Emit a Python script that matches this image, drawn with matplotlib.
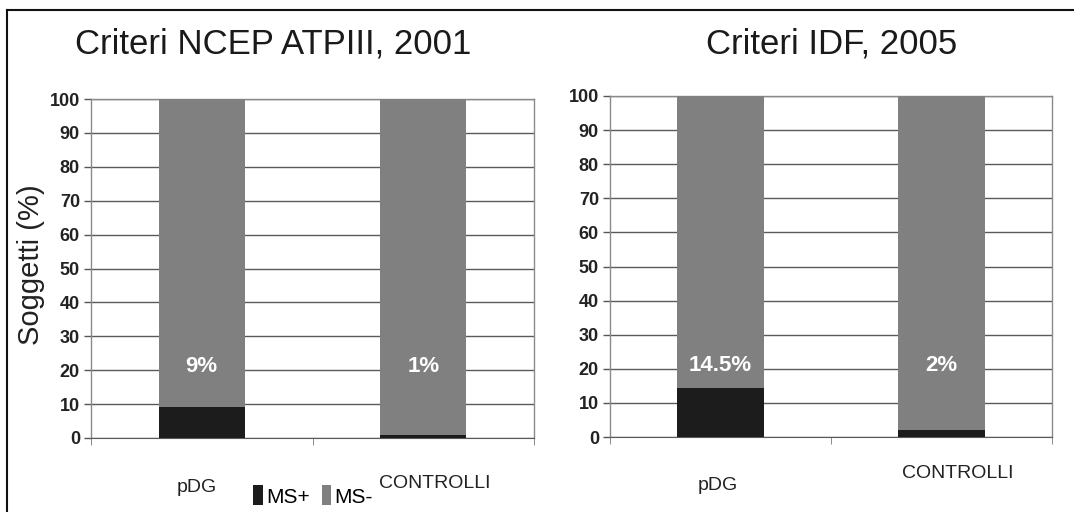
import matplotlib
matplotlib.use("Agg")
import matplotlib.pyplot as plt
import matplotlib.transforms as mtransforms
from matplotlib.patches import Patch
from matplotlib.lines import Line2D
from matplotlib import font_manager


categories = ["pDG", "CONTROLLI"]
panel_titles = ["Criteri NCEP ATPIII, 2001", "Criteri IDF, 2005"]
ms_pos_ncep = [9, 1]
ms_neg_ncep = [91, 99]
ms_pos_idf = [14.5, 2]
ms_neg_idf = [85.5, 98]
value_labels_ncep = ["9%", "1%"]
value_labels_idf = ["14.5%", "2%"]
yticks = list(range(0, 101, 10))

DARK = "#1c1c1c"
GRAY = "#808080"
W, H = 1074, 512

names = {f.name for f in font_manager.fontManager.ttflist}
SANS = "Liberation Sans" if "Liberation Sans" in names else "DejaVu Sans"
plt.rcParams["font.family"] = [SANS, "DejaVu Sans"]

fig = plt.figure(figsize=(W / 100, H / 100), dpi=100)
fig.patch.set_facecolor("white")


def px_axes(left, top, right, bottom):
    return fig.add_axes([left / W, 1 - bottom / H, (right - left) / W, (bottom - top) / H])


def draw_panel(ax, pos, neg, labels, label_offsets):
    x = range(len(categories))
    ax.bar(x, pos, width=0.39, color=DARK, zorder=3)
    ax.bar(x, neg, bottom=pos, width=0.39, color=GRAY, zorder=3)
    for xi, lab in zip(x, labels):
        ax.text(xi, 21, lab, color="white", fontsize=16, fontweight="bold",
                ha="center", va="center", zorder=4)
    ax.set_xlim(-0.5, 1.5)
    ax.set_ylim(0, 100)
    ax.set_yticks(yticks)
    ax.set_yticklabels([str(t) for t in yticks], fontweight="bold",
                       fontsize=13, color="#222222")
    ax.yaxis.grid(True, color="#5a5a5a", linewidth=1.0, zorder=0)
    ax.set_axisbelow(True)
    ax.tick_params(axis="y", direction="out", length=5, width=1, color="#555555", pad=3)
    # category separators on the bottom axis
    ax.set_xticks([-0.5, 0.5, 1.5], minor=True)
    ax.tick_params(axis="x", which="minor", direction="out", length=5, color="#777777")
    ax.set_xticks(list(x))
    ax.set_xticklabels(categories, fontsize=14, color="#222222")
    ax.tick_params(axis="x", which="major", length=0, pad=27)
    for lab, (dx, dy) in zip(ax.get_xticklabels(), label_offsets):
        off = mtransforms.ScaledTranslation(dx / 100, dy / 100, fig.dpi_scale_trans)
        lab.set_transform(lab.get_transform() + off)
    for side in ["left", "right", "top"]:
        ax.spines[side].set_color("#8a8a8a")
        ax.spines[side].set_linewidth(1.0)
    ax.spines["bottom"].set_color("#5a5a5a")


ax1 = px_axes(91, 99, 534, 438)
draw_panel(ax1, ms_pos_ncep, ms_neg_ncep, value_labels_ncep, [(-5, -3), (12, 1)])
ax2 = px_axes(610, 96, 1052, 437)
draw_panel(ax2, ms_pos_idf, ms_neg_idf, value_labels_idf, [(-3, -2), (16, 9)])

fig.text(273 / W, 1 - 44 / H, panel_titles[0], fontsize=25, ha="center", va="center",
         color="#1a1a1a")
fig.text(832 / W, 1 - 44 / H, panel_titles[1], fontsize=25, ha="center", va="center",
         color="#1a1a1a")
fig.text(31 / W, 1 - 265 / H, "Soggetti (%)", fontsize=21, rotation=90,
         ha="center", va="center", color="#222222")

handles = [Patch(facecolor=DARK, label="MS+"), Patch(facecolor=GRAY, label="MS-")]
fig.legend(handles=handles, loc="center", bbox_to_anchor=(313 / W, 1 - 496 / H),
           ncol=2, frameon=False, prop={"size": 15},
           handlelength=0.45, handleheight=1.1, handletextpad=0.15,
           columnspacing=0.6, borderpad=0)

# outer frame of the figure (only top and left edges are visible)
fig.add_artist(Line2D([7 / W, 7 / W], [0, 1 - 10 / H], color="#111111",
                      linewidth=1.5, transform=fig.transFigure))
fig.add_artist(Line2D([7 / W, 1], [1 - 10 / H, 1 - 10 / H], color="#111111",
                      linewidth=1.5, transform=fig.transFigure))

fig.savefig("out.png", dpi=100, facecolor="white")
